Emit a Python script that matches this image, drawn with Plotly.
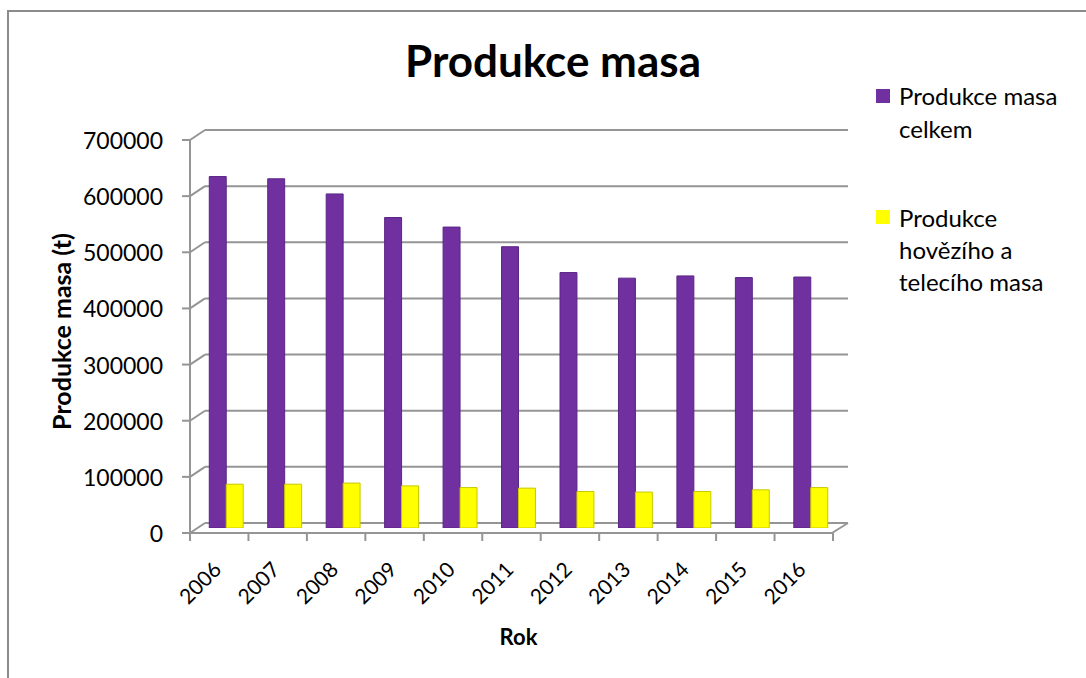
import plotly.graph_objects as go

# ---- data ----
years = ["2006", "2007", "2008", "2009", "2010", "2011", "2012", "2013", "2014", "2015", "2016"]
total_meat = [626000, 622000, 595000, 553000, 536000, 501000, 455000, 445000, 449000, 446000, 447000]
beef_veal = [78000, 78000, 80000, 75000, 72000, 71000, 65000, 64000, 65000, 68000, 72000]
y_ticks = [0, 100000, 200000, 300000, 400000, 500000, 600000, 700000]
series_names = ["Produkce masa celkem", "Produkce hovězího a telecího masa"]
legend_lines = [["Produkce masa", "celkem"], ["Produkce", "hovězího a", "telecího masa"]]

# ---- layout constants ----
W, H = 1086, 678
ML, MR, MT, MB = 197, 246, 135, 150
PW, PH = W - ML - MR, H - MT - MB
YMAX = 700000
FONT = "Lato"
GRID = "#959595"
DX, DY = 8, 5   # pseudo-3D depth offsets (px)


def px(dx):
    return dx / PW


def py(dy):
    return dy / PH


def yv(v, dy=0):
    return v / YMAX + py(dy)


fig = go.Figure()
fig.add_trace(go.Bar(x=years, y=total_meat, name=series_names[0],
                     marker=dict(color="#7030A0", line=dict(color="#5B2585", width=1)),
                     hoverinfo="skip"))
fig.add_trace(go.Bar(x=years, y=beef_veal, name=series_names[1],
                     marker=dict(color="#FFFF00", line=dict(color="#C8C800", width=1)),
                     hoverinfo="skip"))

shapes = []
line = dict(color=GRID, width=2)
# back wall gridlines + left diagonals + front ticks
for v in y_ticks:
    shapes.append(dict(type="line", xref="paper", yref="paper", layer="below",
                       x0=px(DX), x1=1 + px(DX), y0=yv(v, DY), y1=yv(v, DY), line=line))
    shapes.append(dict(type="line", xref="paper", yref="paper", layer="below",
                       x0=px(-DX + 1), x1=px(DX), y0=yv(v, -DY), y1=yv(v, DY), line=line))
    shapes.append(dict(type="line", xref="paper", yref="paper", layer="below",
                       x0=px(-DX - 7), x1=px(-DX + 1), y0=yv(v, -DY), y1=yv(v, -DY), line=line))
# front vertical axis
shapes.append(dict(type="line", xref="paper", yref="paper", layer="below",
                   x0=px(-DX + 1), x1=px(-DX + 1), y0=yv(0, -DY - 1), y1=yv(YMAX, -DY), line=line))
# front floor edge + right diagonal
shapes.append(dict(type="line", xref="paper", yref="paper", layer="below",
                   x0=px(-DX + 1), x1=1 - px(DX), y0=yv(0, -DY), y1=yv(0, -DY), line=line))
shapes.append(dict(type="line", xref="paper", yref="paper", layer="below",
                   x0=1 - px(DX), x1=1 + px(DX), y0=yv(0, -DY), y1=yv(0, DY), line=line))
# x tick marks on the front edge (category boundaries)
n = len(years)
for k in range(n + 1):
    xk = k / n + px(-DX + 1)
    shapes.append(dict(type="line", xref="paper", yref="paper", layer="below",
                       x0=xk, x1=xk, y0=yv(0, -DY), y1=yv(0, -DY - 8), line=line))
# outer chart border
shapes.append(dict(type="rect", xref="paper", yref="paper", layer="below",
                   x0=px(8 - ML), x1=2, y0=-2, y1=py(H - MB - 11),
                   line=dict(color="#8C8C8C", width=2), fillcolor="rgba(0,0,0,0)"))

# custom legend (squares + text lines)
colors = ["#7030A0", "#FFFF00"]
leg_y0 = [96, 217]
annotations = []
for i, lines in enumerate(legend_lines):
    cy = leg_y0[i]
    shapes.append(dict(type="rect", xref="paper", yref="paper",
                       x0=px(876 - ML), x1=px(890 - ML),
                       y0=py(H - MB - cy - 7), y1=py(H - MB - cy + 7),
                       line=dict(width=0), fillcolor=colors[i]))
    for j, t in enumerate(lines):
        annotations.append(dict(text=t, xref="paper", yref="paper", showarrow=False,
                                x=px(897 - ML), y=py(H - MB - (cy + 32 * j)),
                                xanchor="left", yanchor="middle",
                                font=dict(family=FONT, size=24, color="#000")))

fig.update_layout(
    width=W, height=H,
    margin=dict(l=ML, r=MR, t=MT, b=MB, autoexpand=False),
    paper_bgcolor="white", plot_bgcolor="rgba(0,0,0,0)",
    barmode="group", bargap=0.42, bargroupgap=0,
    showlegend=False,
    title=dict(text="<b>Produkce masa</b>", x=553 / W, xanchor="center",
               y=1 - 62 / H, yanchor="middle",
               font=dict(family=FONT, size=44, color="#000")),
    font=dict(family=FONT, color="#000"),
    shapes=shapes,
    annotations=annotations,
    xaxis=dict(type="category", showgrid=False, showline=False, zeroline=False, ticks="",
               tickangle=-45, tickfont=dict(family=FONT, size=21, color="#000"),
               ticklabelshift=-11, ticklabelstandoff=24,
               title=dict(text="<b>Rok</b>", font=dict(family=FONT, size=22, color="#000"),
                          standoff=22)),
    yaxis=dict(range=[0, YMAX], tickvals=y_ticks, showgrid=False, showline=False,
               zeroline=False, ticks="", tickformat="d",
               tickfont=dict(family=FONT, size=23, color="#000"),
               ticklabelshift=6, ticklabelstandoff=33,
               title=dict(text="<b>Produkce masa (t)</b>",
                          font=dict(family=FONT, size=25, color="#000"), standoff=4)),
)

fig.write_html("out.html", config={"displayModeBar": False},
               post_script="document.body.style.margin='0';")
